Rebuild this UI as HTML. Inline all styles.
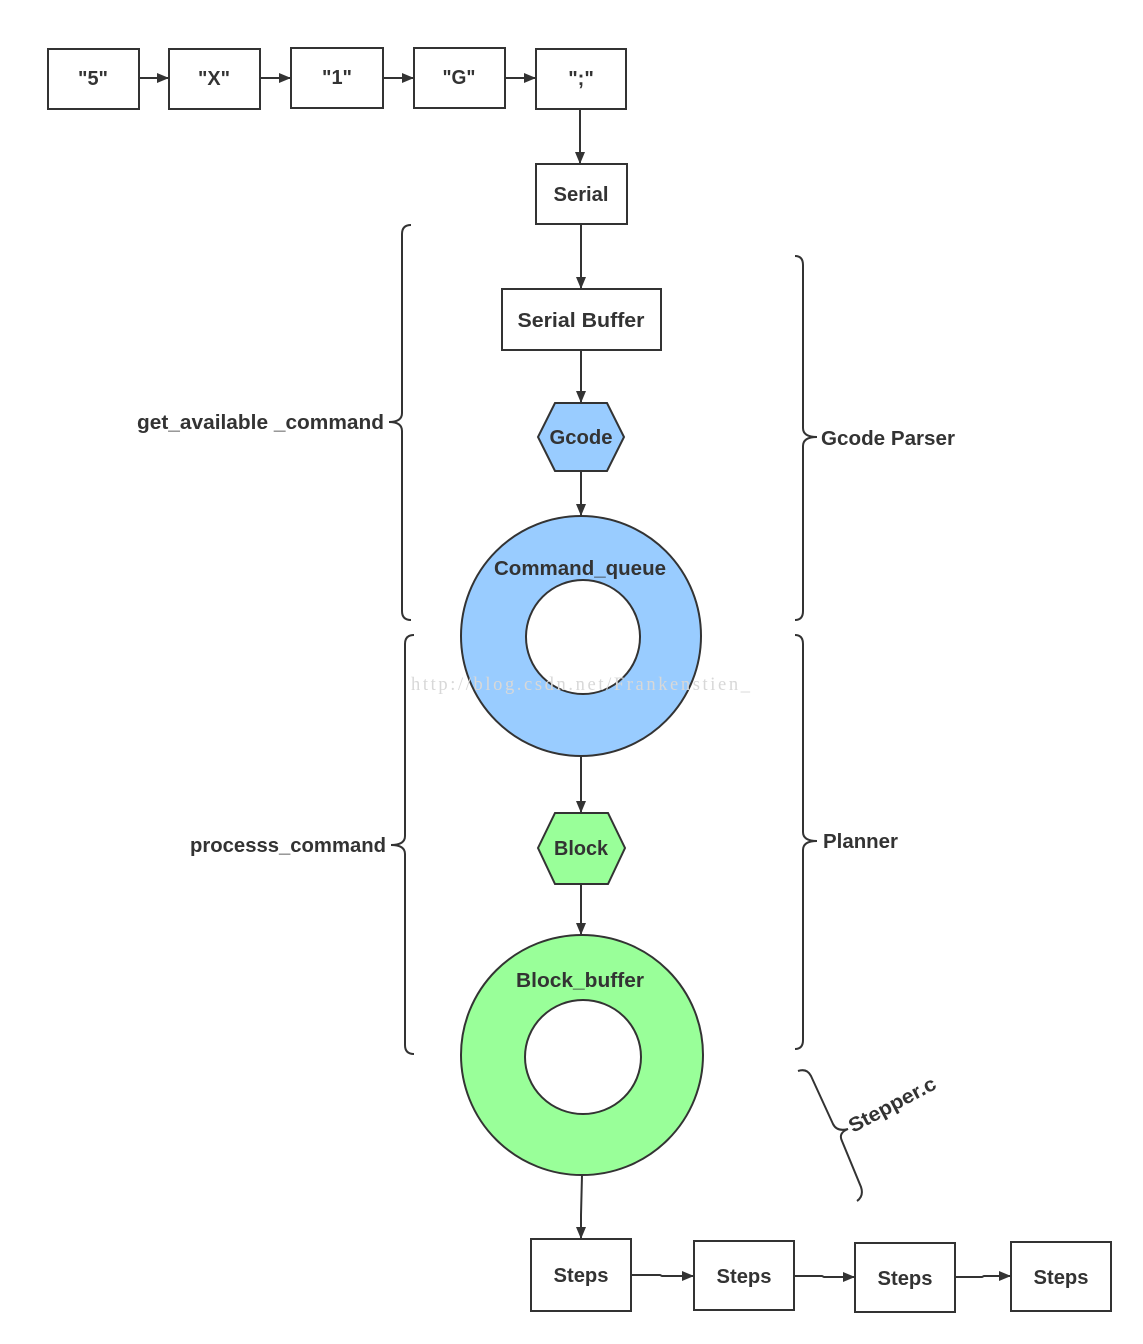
<!DOCTYPE html>
<html><head><meta charset="utf-8"><style>
html,body{margin:0;padding:0;background:#fff;}
svg{display:block;}
text{font-family:"Liberation Sans","DejaVu Sans",sans-serif;font-weight:bold;fill:#333;}
</style></head><body>
<svg width="1143" height="1344" viewBox="0 0 1143 1344" xmlns="http://www.w3.org/2000/svg">
<defs><marker id="a" markerWidth="12" markerHeight="10" refX="11" refY="5" orient="auto" markerUnits="userSpaceOnUse"><path d="M0,0 L12,5 L0,10 Z" fill="#333"/></marker></defs>
<g fill="#fff" stroke="#333" stroke-width="2">
<rect x="48" y="49" width="91" height="60"/>
<rect x="169" y="49" width="91" height="60"/>
<rect x="291" y="48" width="92" height="60"/>
<rect x="414" y="48" width="91" height="60"/>
<rect x="536" y="49" width="90" height="60"/>
<rect x="536" y="164" width="91" height="60"/>
<rect x="502" y="289" width="159" height="61"/>
<rect x="531" y="1239" width="100" height="72"/>
<rect x="694" y="1241" width="100" height="69"/>
<rect x="855" y="1243" width="100" height="69"/>
<rect x="1011" y="1242" width="100" height="69"/>
</g>
<g stroke="#333" stroke-width="2" fill="none" marker-end="url(#a)">
<line x1="139" y1="78" x2="168" y2="78"/>
<line x1="260" y1="78" x2="290" y2="78"/>
<line x1="383" y1="78" x2="413" y2="78"/>
<line x1="505" y1="78" x2="535" y2="78"/>
<line x1="580" y1="109" x2="580" y2="163"/>
<line x1="581" y1="224" x2="581" y2="288"/>
<line x1="581" y1="350" x2="581" y2="402"/>
<line x1="581" y1="471" x2="581" y2="515"/>
<line x1="581" y1="756" x2="581" y2="812"/>
<line x1="581" y1="884" x2="581" y2="934"/>
<polyline points="582,1175 581,1215 581,1238"/>
<polyline points="631,1275 660,1275 662,1276 693,1276"/>
<polyline points="794,1276 822,1276 824,1277 854,1277"/>
<polyline points="955,1277 982,1277 984,1276 1010,1276"/>
</g>
<polygon points="555,403 607,403 624,437 607,471 555,471 538,437" fill="#99ccff" stroke="#333" stroke-width="2"/>
<polygon points="555,813 608,813 625,848 608,884 555,884 538,848" fill="#99ff99" stroke="#333" stroke-width="2"/>
<path d="M461,636 a120,120 0 1,0 240,0 a120,120 0 1,0 -240,0 Z M526,637 a57,57 0 1,1 114,0 a57,57 0 1,1 -114,0 Z" fill="#99ccff" fill-rule="evenodd" stroke="#333" stroke-width="2"/>
<path d="M461,1055 a121,120 0 1,0 242,0 a121,120 0 1,0 -242,0 Z M525,1057 a58,57 0 1,1 116,0 a58,57 0 1,1 -116,0 Z" fill="#99ff99" fill-rule="evenodd" stroke="#333" stroke-width="2"/>
<g stroke="#333" stroke-width="2" fill="none">
<path d="M411,225 Q402,225 402,234 L402,413 Q402,422 389,422 Q402,422 402,431 L402,611 Q402,620 411,620"/>
<path d="M414,635 Q405,635 405,644 L405,836 Q405,845 391,845 Q405,845 405,854 L405,1045 Q405,1054 414,1054"/>
<path d="M795,256 Q803,256 803,265 L803,428 Q803,437 817,437 Q803,437 803,446 L803,611 Q803,620 795,620"/>
<path d="M795,635 Q803,635 803,644 L803,832 Q803,841 817,841 Q803,841 803,850 L803,1040 Q803,1049 795,1049"/>
<path d="M798,1071 Q807,1068 811,1076 L833,1124 Q837,1132 848,1129 Q838,1133 842,1141 L861,1187 Q864,1196 857,1201"/>
</g>
<g font-size="20" text-anchor="middle">
<text x="93" y="85" textLength="30" lengthAdjust="spacingAndGlyphs">"5"</text>
<text x="214" y="85" textLength="32" lengthAdjust="spacingAndGlyphs">"X"</text>
<text x="337" y="84" textLength="30" lengthAdjust="spacingAndGlyphs">"1"</text>
<text x="459" y="84" textLength="33" lengthAdjust="spacingAndGlyphs">"G"</text>
<text x="581" y="85">";"</text>
<text x="581" y="201" textLength="55" lengthAdjust="spacingAndGlyphs">Serial</text>
<text x="581" y="327" textLength="127" lengthAdjust="spacingAndGlyphs">Serial Buffer</text>
<text x="581" y="444" textLength="63" lengthAdjust="spacingAndGlyphs">Gcode</text>
<text x="580" y="575" textLength="172" lengthAdjust="spacingAndGlyphs">Command_queue</text>
<text x="581" y="855" textLength="54" lengthAdjust="spacingAndGlyphs">Block</text>
<text x="580" y="987" textLength="128" lengthAdjust="spacingAndGlyphs">Block_buffer</text>
<text x="581" y="1282" textLength="55" lengthAdjust="spacingAndGlyphs">Steps</text>
<text x="744" y="1283" textLength="55" lengthAdjust="spacingAndGlyphs">Steps</text>
<text x="905" y="1285" textLength="55" lengthAdjust="spacingAndGlyphs">Steps</text>
<text x="1061" y="1284" textLength="55" lengthAdjust="spacingAndGlyphs">Steps</text>
</g>
<g font-size="20">
<text x="137" y="429" textLength="247" lengthAdjust="spacingAndGlyphs">get_available _command</text>
<text x="190" y="852" textLength="196" lengthAdjust="spacingAndGlyphs">processs_command</text>
<text x="821" y="445" textLength="134" lengthAdjust="spacingAndGlyphs">Gcode Parser</text>
<text x="823" y="848" textLength="75" lengthAdjust="spacingAndGlyphs">Planner</text>
<text x="0" y="0" transform="translate(853,1133) rotate(-28)" textLength="96" lengthAdjust="spacingAndGlyphs">Stepper.c</text>
</g>
<text x="411" y="690" font-size="18.5" style="fill:#d8d8d8;font-weight:normal;font-family:'Liberation Serif',serif" textLength="339">http://blog.csdn.net/Frankenstien_</text>
</svg>
</body></html>
